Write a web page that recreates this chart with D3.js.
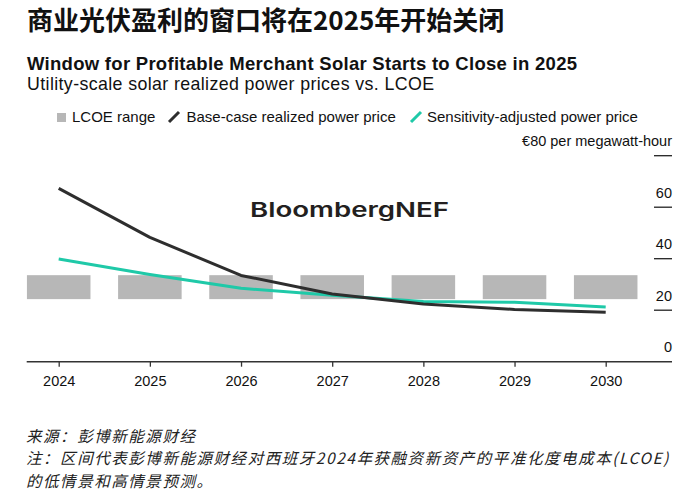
<!DOCTYPE html>
<html>
<head>
<meta charset="utf-8">
<script src="https://cdn.jsdelivr.net/npm/d3@7"></script>
<style>
  html, body { margin: 0; padding: 0; background: #fff; }
  #wrap { position: relative; width: 700px; height: 499px; }
  svg { display: block; position: absolute; left: 0; top: 0; }
  #notes { position: absolute; left: 26px; top: 423.5px; width: 670px;
           font-family: 'Noto Sans CJK SC', sans-serif; font-size: 15.5px; font-style: italic;
           letter-spacing: 1.55px;
           line-height: 22.5px; color: #222; white-space: nowrap; }
  #notes div { height: 22.5px; }
</style>
</head>
<body>
<div id="wrap">
<svg id="chart" width="700" height="499"></svg>
<div id="notes"></div>
</div>
<script>
// ---- data ----
const years = ["2024", "2025", "2026", "2027", "2028", "2029", "2030"];
const baseCase = [67.3, 48.3, 33.5, 26.3, 22.4, 20.3, 19.2];
const sensitivity = [39.9, 33.9, 28.5, 25.8, 23.4, 23.1, 21.2];
const lcoeLow = [24.3, 24.3, 24.3, 24.3, 24.3, 24.3, 24.3];
const lcoeHigh = [33.6, 33.6, 33.6, 33.6, 33.6, 33.6, 33.6];
const yTicks = [0, 20, 40, 60, 80];
const legendLabels = ["LCOE range", "Base-case realized power price", "Sensitivity-adjusted power price"];

const titleZh = "商业光伏盈利的窗口将在2025年开始关闭";
const titleEn = "Window for Profitable Merchant Solar Starts to Close in 2025";
const subtitle = "Utility-scale solar realized power prices vs. LCOE";
const unitLabel = "€80 per megawatt-hour";
const notes = [
  "来源：彭博新能源财经",
  "注：区间代表彭博新能源财经对西班牙2024年获融资新资产的平准化度电成本(LCOE)",
  "的低情景和高情景预测。"
];

// ---- styles ----
const EN = "'Liberation Sans', Arial, Helvetica, sans-serif";
const ZH = "'Noto Sans CJK SC', 'Noto Sans', sans-serif";
const TEAL = "#1fc9a8";
const DARK = "#2e2e2e";
const GRAY = "#b7b7b7";

const svg = d3.select("#chart");

// titles
svg.append("text").attr("x", 27).attr("y", 30)
  .attr("font-family", ZH).attr("font-weight", 700).attr("font-size", 26)
  .attr("fill", "#111").text(titleZh);
svg.append("text").attr("x", 27).attr("y", 69.5)
  .attr("font-family", EN).attr("font-weight", 700).attr("font-size", 18.5)
  .attr("textLength", 550)
  .attr("fill", "#111").text(titleEn);
svg.append("text").attr("x", 27).attr("y", 89.5)
  .attr("font-family", EN).attr("font-size", 17.8)
  .attr("textLength", 407)
  .attr("fill", "#111").text(subtitle);

// legend
const lg = svg.append("g").attr("font-family", EN).attr("font-size", 15).attr("fill", "#111");
lg.append("rect").attr("x", 57).attr("y", 113).attr("width", 9).attr("height", 9).attr("fill", GRAY);
lg.append("text").attr("x", 72).attr("y", 122.3).text(legendLabels[0]);
lg.append("line").attr("x1", 169).attr("y1", 122).attr("x2", 179).attr("y2", 112)
  .attr("stroke", DARK).attr("stroke-width", 3);
lg.append("text").attr("x", 186.5).attr("y", 122.3).text(legendLabels[1]);
lg.append("line").attr("x1", 411).attr("y1", 122).attr("x2", 421).attr("y2", 112)
  .attr("stroke", TEAL).attr("stroke-width", 3);
lg.append("text").attr("x", 427).attr("y", 122.3).text(legendLabels[2]);

// scales
const x = d3.scalePoint().domain(years).range([58.7, 605.7]);
const y = d3.scaleLinear().domain([0, 80]).range([361.7, 155.7]);
const bw = x.step() * 0.697;

// watermark
svg.append("text").attr("x", 250).attr("y", 217.3)
  .attr("font-family", "Inter, 'Liberation Sans', sans-serif").attr("font-weight", 600)
  .attr("font-size", 20.5).attr("fill", "#231f20")
  .attr("textLength", 199).attr("lengthAdjust", "spacingAndGlyphs")
  .text("BloombergNEF");

// LCOE bars
svg.append("g").selectAll("rect").data(years).join("rect")
  .attr("x", d => x(d) - bw / 2)
  .attr("y", (d, i) => y(lcoeHigh[i]))
  .attr("width", bw)
  .attr("height", (d, i) => y(lcoeLow[i]) - y(lcoeHigh[i]))
  .attr("fill", GRAY);

// lines
const line = d3.line().x((d, i) => x(years[i])).y(d => y(d));
svg.append("path").datum(sensitivity).attr("d", line)
  .attr("fill", "none").attr("stroke", TEAL).attr("stroke-width", 3)
  .attr("stroke-linejoin", "round");
svg.append("path").datum(baseCase).attr("d", line)
  .attr("fill", "none").attr("stroke", DARK).attr("stroke-width", 3)
  .attr("stroke-linejoin", "round");

// y axis (right, labels above short tick marks)
const yg = svg.append("g").attr("font-family", EN).attr("font-size", 14.5).attr("fill", "#111");
yg.selectAll("line").data(yTicks.filter(t => t > 0)).join("line")
  .attr("x1", 654).attr("x2", 672)
  .attr("y1", d => y(d)).attr("y2", d => y(d))
  .attr("stroke", "#222").attr("stroke-width", 1.3);
yg.selectAll("text").data(yTicks).join("text")
  .attr("x", 672).attr("y", d => y(d) - 9.5)
  .attr("text-anchor", "end")
  .text(d => d === 80 ? unitLabel : d);

// x axis
const xAxis = d3.axisBottom(x).tickSize(5).tickPadding(9);
const xg = svg.append("g").attr("transform", `translate(0,${y(0)})`).call(xAxis);
xg.select(".domain").remove();
xg.selectAll(".tick line").attr("stroke", "#333").attr("stroke-width", 1.3);
xg.selectAll(".tick text").attr("font-family", EN).attr("font-size", 14.5).attr("fill", "#111");
svg.append("line").attr("x1", 26.7).attr("x2", 672).attr("y1", y(0)).attr("y2", y(0))
  .attr("stroke", "#333").attr("stroke-width", 1.5);

// notes (HTML lines with fixed line height)
d3.select("#notes").selectAll("div").data(notes).join("div").text(d => d);
</script>
</body>
</html>
